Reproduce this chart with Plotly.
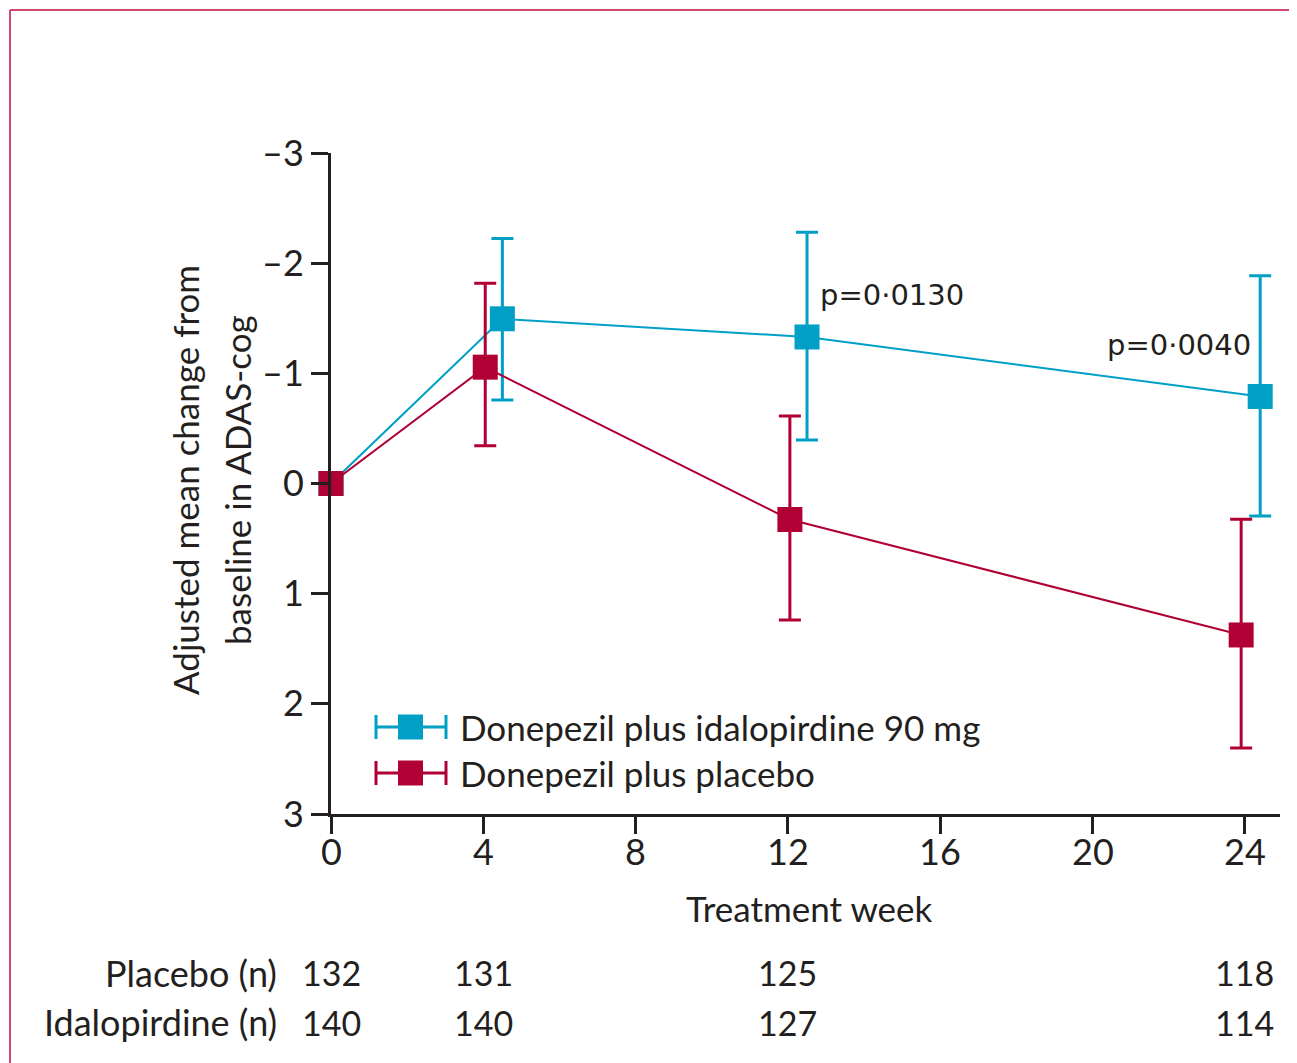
import plotly.graph_objects as go

# ---------------- data ----------------
week_ticks = [0, 4, 8, 12, 16, 20, 24]
y_ticks = [-3, -2, -1, 0, 1, 2, 3]
y_ticktext = ["–3", "–2", "–1", "0", "1", "2", "3"]

series_names = ["Donepezil plus idalopirdine 90 mg", "Donepezil plus placebo"]

ida_weeks = [0, 4.5, 12.5, 24.4]
ida_mean = [0, -1.495, -1.33, -0.79]
ida_ci_low = [0, -2.225, -2.28, -1.886]
ida_ci_high = [0, -0.758, -0.395, 0.295]

pla_weeks = [0, 4.05, 12.05, 23.9]
pla_mean = [0, -1.056, 0.327, 1.375]
pla_ci_low = [0, -1.817, -0.613, 0.325]
pla_ci_high = [0, -0.343, 1.239, 2.40]

p_labels = ["p=0·0130", "p=0·0040"]

n_weeks = [0, 4, 12, 24]
n_row_labels = ["Placebo (n)", "Idalopirdine (n)"]
n_placebo = [132, 131, 125, 118]
n_idalopirdine = [140, 140, 127, 114]

# ---------------- style ----------------
TEAL = "#00a0c6"
CRIMSON = "#b00034"
INK = "#231f20"
BORDER = "#d04a70"
FONT = "Lato"

OFF = 8  # page offset of the figure (body margin)
W, H = 1297 - OFF, 1063 - OFF
# plot-area edges in page pixels
L, R, T, B = 331, 1280, 153, 814


def px_x(px):
    return (px - L) / (R - L)


def px_y(py):
    return (B - py) / (B - T)


fig = go.Figure()

for name, xs, m, lo, hi, col in [
    (series_names[0], ida_weeks, ida_mean, ida_ci_low, ida_ci_high, TEAL),
    (series_names[1], pla_weeks, pla_mean, pla_ci_low, pla_ci_high, CRIMSON),
]:
    fig.add_trace(go.Scatter(
        x=xs, y=m, name=name, mode="lines+markers",
        line=dict(color=col, width=2),
        marker=dict(symbol="square", size=25, color=col, line=dict(width=0)),
        error_y=dict(type="data", symmetric=False,
                     array=[h - v for h, v in zip(hi, m)],
                     arrayminus=[v - l for v, l in zip(m, lo)],
                     color=col, thickness=3, width=11),
        cliponaxis=False, showlegend=False,
    ))

annotations = []
shapes = []

# x tick labels (placed a little closer to the axis than the default)
for wk in week_ticks:
    annotations.append(dict(x=wk, y=px_y(851), xref="x", yref="paper", text=str(wk),
                            showarrow=False, xanchor="center", yanchor="middle",
                            font=dict(family=FONT, size=36, color=INK)))

# p-value labels
annotations.append(dict(x=12.78, y=-1.71, xref="x", yref="y", text=p_labels[0],
                        showarrow=False, xanchor="left", yanchor="middle",
                        font=dict(family="DejaVu Sans", size=29, color=INK)))
annotations.append(dict(x=24.2, y=-1.26, xref="x", yref="y", text=p_labels[1],
                        showarrow=False, xanchor="right", yanchor="middle",
                        font=dict(family="DejaVu Sans", size=29, color=INK)))

# y-axis title (two lines)
annotations.append(dict(x=px_x(185), y=px_y(480), xref="paper", yref="paper",
                        text="Adjusted mean change from", textangle=-90, showarrow=False,
                        xanchor="center", yanchor="middle",
                        font=dict(family=FONT, size=35, color=INK)))
annotations.append(dict(x=px_x(237), y=px_y(480), xref="paper", yref="paper",
                        text="baseline in ADAS-cog", textangle=-90, showarrow=False,
                        xanchor="center", yanchor="middle",
                        font=dict(family=FONT, size=35, color=INK)))

# x-axis title
annotations.append(dict(x=px_x(809), y=px_y(908), xref="paper", yref="paper",
                        text="Treatment week", showarrow=False,
                        xanchor="center", yanchor="middle",
                        font=dict(family=FONT, size=35, color=INK)))

# n table
for label, vals, py in [(n_row_labels[0], n_placebo, 973), (n_row_labels[1], n_idalopirdine, 1022)]:
    annotations.append(dict(x=px_x(279), y=px_y(py), xref="paper", yref="paper",
                            text=label, showarrow=False, xanchor="right", yanchor="middle",
                            font=dict(family=FONT, size=36, color=INK)))
    for wk, v in zip(n_weeks, vals):
        annotations.append(dict(x=wk, y=px_y(py), xref="x", yref="paper",
                                text=str(v), showarrow=False, xanchor="center", yanchor="middle",
                                font=dict(family=FONT, size=34, color=INK)))

# custom legend with error-bar icons
for name, col, py in [(series_names[0], TEAL, 727), (series_names[1], CRIMSON, 773)]:
    shapes.append(dict(type="line", xref="paper", yref="paper", x0=px_x(376), x1=px_x(446),
                       y0=px_y(py), y1=px_y(py), line=dict(color=col, width=3)))
    for cx in (376, 446):
        shapes.append(dict(type="line", xref="paper", yref="paper", x0=px_x(cx), x1=px_x(cx),
                           y0=px_y(py - 12), y1=px_y(py + 12), line=dict(color=col, width=3)))
    shapes.append(dict(type="rect", xref="paper", yref="paper", x0=px_x(398), x1=px_x(423),
                       y0=px_y(py - 12.5), y1=px_y(py + 12.5), fillcolor=col, line=dict(width=0)))
    annotations.append(dict(x=px_x(458), y=px_y(py), xref="paper", yref="paper", text=name,
                            showarrow=False, xanchor="left", yanchor="middle",
                            font=dict(family=FONT, size=35, color=INK)))

# outer frame (left and top edges)
shapes.append(dict(type="line", xref="paper", yref="paper", x0=px_x(10), x1=px_x(10),
                   y0=px_y(10), y1=px_y(1080), line=dict(color=BORDER, width=2)))
shapes.append(dict(type="line", xref="paper", yref="paper", x0=px_x(10), x1=px_x(1310),
                   y0=px_y(10), y1=px_y(10), line=dict(color=BORDER, width=2)))

fig.update_layout(
    width=W, height=H,
    margin=dict(l=L - OFF, r=W - (R - OFF), t=T - OFF, b=H - (B - OFF), autoexpand=False),
    paper_bgcolor="white", plot_bgcolor="white",
    font=dict(family=FONT, size=35, color=INK),
    annotations=annotations, shapes=shapes,
    xaxis=dict(range=[0, 24.92], tickvals=week_ticks, ticks="outside", ticklen=17,
               tickwidth=3, tickcolor=INK, showline=True, linewidth=3, linecolor=INK,
               showgrid=False, zeroline=False, showticklabels=False),
    yaxis=dict(range=[3, -3], tickvals=y_ticks, ticktext=y_ticktext, ticks="outside",
               ticklen=17, tickwidth=3, tickcolor=INK, showline=True, linewidth=3,
               linecolor=INK, showgrid=False, zeroline=False,
               tickfont=dict(family=FONT, size=36, color=INK)),
)

fig.write_html("out.html")
